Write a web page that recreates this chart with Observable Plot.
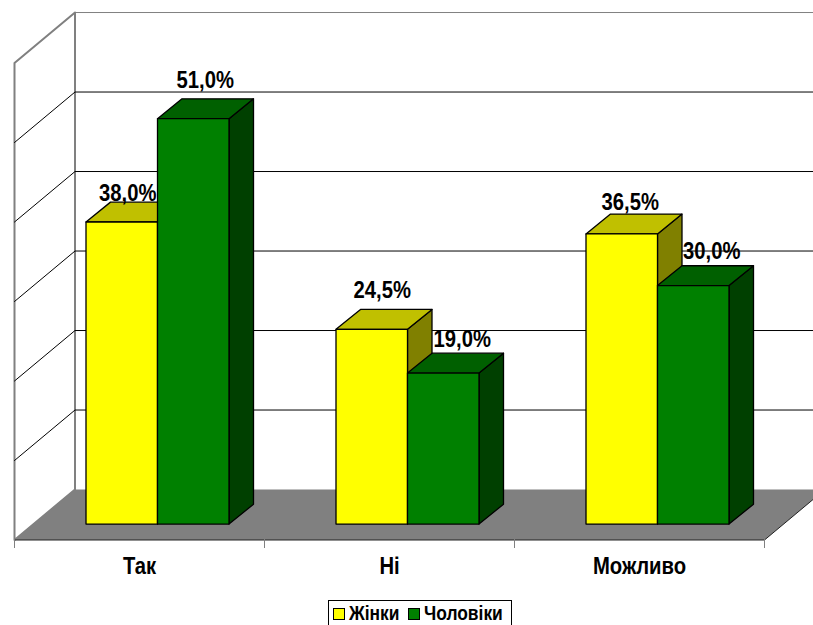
<!DOCTYPE html>
<html>
<head>
<meta charset="utf-8">
<script src="https://cdn.jsdelivr.net/npm/d3@7"></script>
<script src="https://cdn.jsdelivr.net/npm/@observablehq/plot@0.6"></script>
<style>
html,body{margin:0;padding:0;background:#fff;overflow:hidden;width:813px;height:625px}
svg{display:block}
#legend{position:absolute;left:328px;top:600px;width:184px;height:30px;border:1px solid #000;box-sizing:border-box;
 font:bold 20px "Liberation Sans",Arial,sans-serif;color:#000;line-height:25px}
#legend i{position:absolute;top:7px;width:10px;height:10px;border:1px solid #000}
#legend span{position:absolute;top:0;transform:scaleX(.87);transform-origin:0 0;white-space:nowrap}
</style>
</head>
<body>
<div id="chart"></div>
<div id="legend"></div>
<script>
const categories = ["Так", "Ні", "Можливо"];
const women = [38.0, 24.5, 36.5];
const men = [51.0, 19.0, 30.0];
const seriesNames = ["Жінки", "Чоловіки"];
const gridValues = [10, 20, 30, 40, 50, 60];
const axisEdges = [0, 1, 2, 3];

// projection of the fake 3D, in scale units (categories, percent)
const WALL_X = 0.242, WALL_Y = 6.35;
const BAR_X = 0.072, BAR_Y = 2.0;
const BAR_W = 0.286, DEPTH_X = 0.098, DEPTH_Y = 2.5;
const FONT = '"Liberation Sans",Arial,sans-serif';

const poly = (pts, o) => Plot.line(pts, {x: d => d[0], y: d => d[1], curve: "linear-closed", strokeWidth: 1, ...o});
const path = (pts, stroke) => Plot.line(pts, {x: d => d[0], y: d => d[1], stroke, strokeWidth: 1});

function bars(values, side, colors) {
  const x0 = i => i + 0.5 + BAR_X + (side ? 0 : -BAR_W);
  const out = [];
  values.forEach((v, i) => {
    const l = x0(i), r = l + BAR_W, t = v + BAR_Y, b = BAR_Y;
    const o = {stroke: "#000", strokeWidth: 1.3};
    out.push(poly([[r, b], [r + DEPTH_X, b + DEPTH_Y], [r + DEPTH_X, t + DEPTH_Y], [r, t]], {fill: colors.side, ...o}));
    out.push(poly([[l, t], [l + DEPTH_X, t + DEPTH_Y], [r + DEPTH_X, t + DEPTH_Y], [r, t]], {fill: colors.top, ...o}));
    out.push(poly([[l, b], [r, b], [r, t], [l, t]], {fill: colors.front, ...o}));
  });
  return out;
}

// hand placement of the data labels, as in the source: [along x, along y]
const womenNudge = [[0.024, 1.43], [0.042, 2.69], [0.034, 1.8]];
const menNudge = [[0.048, 2.56], [0.076, 2.06], [0.074, 2.06]];
const labelData = (values, side, nudge) => values.map((v, i) => ({
  x: i + 0.5 + BAR_X + (side ? BAR_W / 2 : -BAR_W / 2) + nudge[i][0],
  y: v + BAR_Y + DEPTH_Y + nudge[i][1] - 0.3,
  text: v.toFixed(1).replace(".", ",") + "%"
}));
const labelOpts = {x: "x", y: "y", text: "text", fontSize: 23, fontWeight: "bold", fill: "#000", textAnchor: "middle", lineAnchor: "middle"};

const chart = Plot.plot({
  width: 813, height: 600,
  marginLeft: 0, marginRight: 0, marginTop: 0, marginBottom: 61,
  style: {background: "transparent", fontFamily: FONT, overflow: "visible"},
  x: {domain: [0, 3], range: [14, 764], axis: null},
  y: {domain: [0, 60], range: [539.5, 62.5], axis: null},
  marks: [
    // side wall and back wall frame
    poly([[0, 0], [WALL_X, WALL_Y], [WALL_X, 60 + WALL_Y], [0, 60]], {fill: "#fff", stroke: "#808080", strokeWidth: 2}),
    ...gridValues.filter(v => v < 60).map(v => path([[0, v], [WALL_X, v + WALL_Y], [3.4, v + WALL_Y]], "#000")),
    path([[WALL_X, 60 + WALL_Y], [3.4, 60 + WALL_Y]], "#808080"),
    // floor
    poly([[0, 0], [WALL_X, WALL_Y], [3 + WALL_X, WALL_Y], [3, 0]], {fill: "#808080", stroke: "none"}),
    path([[0, 0], [3, 0], [3 + WALL_X, WALL_Y]], "#222"),
    Plot.axisX({ticks: axisEdges, tickFormat: () => "", tickSize: 9, stroke: "#808080", label: null}),
    // bars
    ...bars(women, 0, {front: "#ffff00", top: "#c0c000", side: "#808000"}),
    ...bars(men, 1, {front: "#008000", top: "#006000", side: "#004000"}),
    // labels
    Plot.text(labelData(women, 0, womenNudge), labelOpts),
    Plot.text(labelData(men, 1, menNudge), labelOpts),
    Plot.axisX({ticks: [0.5, 1.5, 2.5], tickFormat: d => categories[Math.floor(d)], tickSize: 0, tickPadding: 18, fontSize: 23, fontWeight: "bold", fill: "#000", label: null})
  ]
});
document.getElementById("chart").append(chart);

// the source's text is condensed: squeeze each label horizontally
chart.querySelectorAll("text").forEach(t => {
  const len = t.getComputedTextLength();
  if (len > 0) {
    t.setAttribute("textLength", (len * 0.88).toFixed(1));
    t.setAttribute("lengthAdjust", "spacingAndGlyphs");
  }
});

const colors = ["#ffff00", "#008000"];
const swatchLeft = [4, 79], textLeft = [20, 95];
document.getElementById("legend").innerHTML = seriesNames.map((n, i) =>
  `<i style="background:${colors[i]};left:${swatchLeft[i]}px"></i><span style="left:${textLeft[i]}px">${n}</span>`).join("");
</script>
</body>
</html>
